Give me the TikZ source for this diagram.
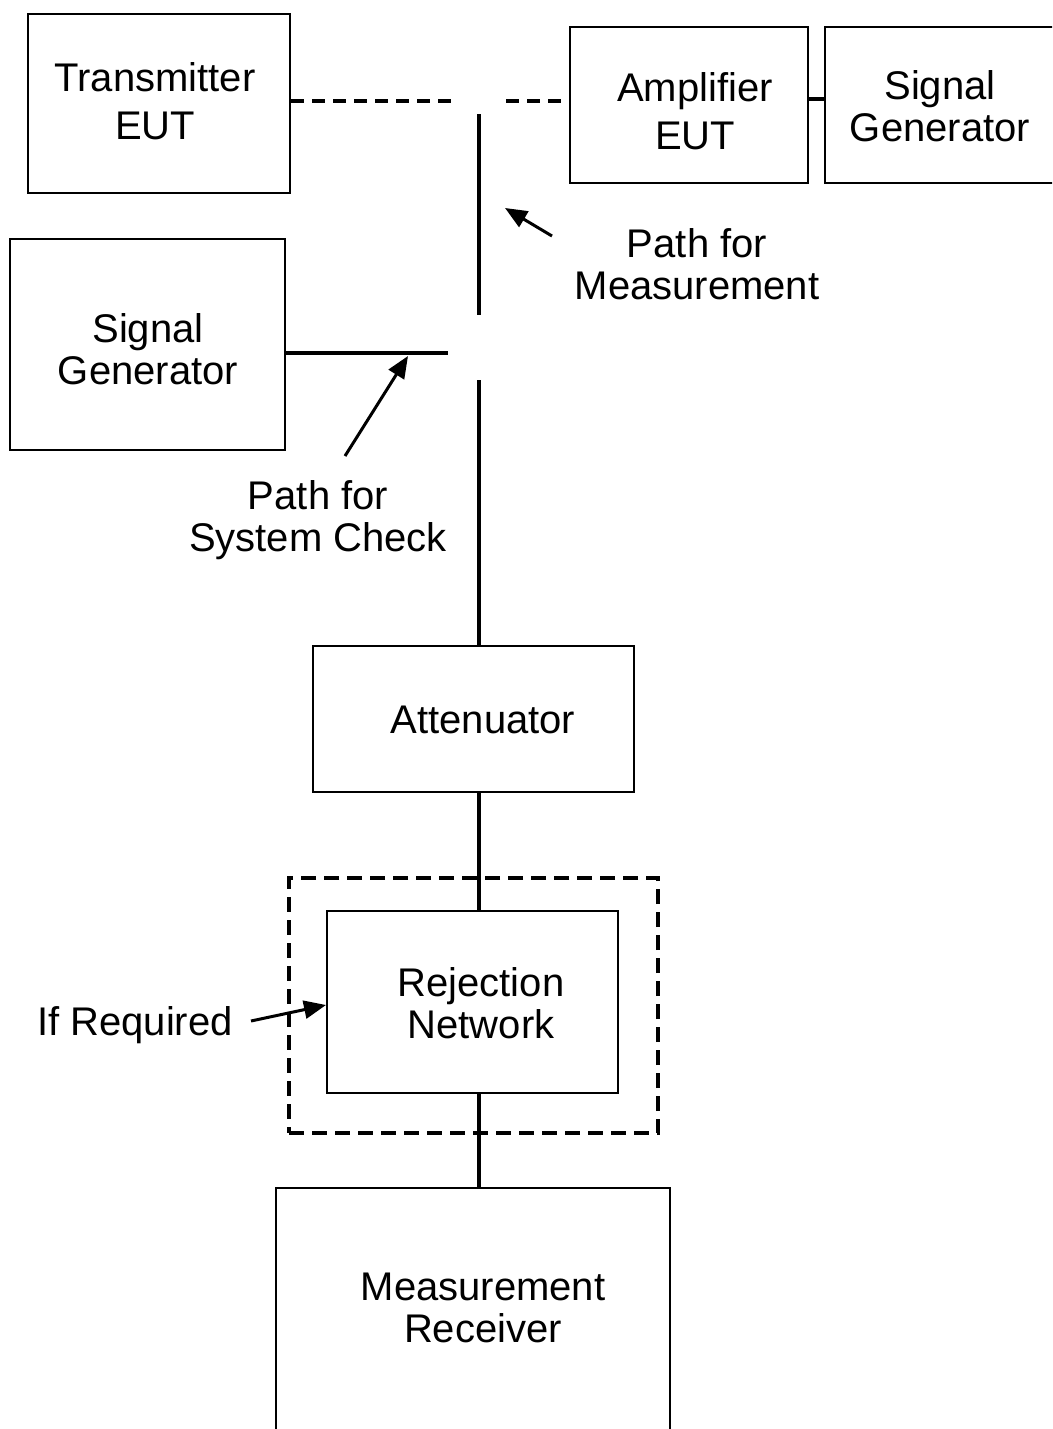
\documentclass[tikz,border=0pt]{standalone}
\usepackage{fontspec}
\setmainfont{Liberation Sans}
\usetikzlibrary{arrows.meta}
\begin{document}
\begin{tikzpicture}[x=1pt,y=-1pt,
  box/.style={draw,line width=2.8pt,inner sep=0pt},
  txt/.style={align=center,inner sep=0pt,font=\fontsize{40}{42}\selectfont},
  wire/.style={line width=3.8pt},
  dwire/.style={line width=3.8pt,dash pattern=on 13pt off 8pt},
  dbox/.style={draw,line width=3.5pt,dash pattern=on 15pt off 8pt,inner sep=0pt},
  arr/.style={line width=3pt,-{Triangle[length=22pt,width=18pt]}}]
\clip (0,0) rectangle (1052,1429);
% boxes
\node[box,minimum width=262pt,minimum height=179pt] (tx) at (159,103.5) {};
\node[txt] (txt-t) at (155,101) {Transmitter\\[6pt]EUT};
\node[box,minimum width=238pt,minimum height=156pt] (amp) at (689,105) {};
\node[txt] (amp-t) at (695,111) {Amplifier\\[6pt]EUT};
\node[box,minimum width=230pt,minimum height=156pt] (sg1) at (940,105) {};
\node[txt] (sg1-t) at (940,106) {Signal\\Generator};
\node[box,minimum width=275pt,minimum height=211pt] (sg2) at (147.5,344.5) {};
\node[txt] (sg2-t) at (148,349.5) {Signal\\Generator};
\node[box,minimum width=321pt,minimum height=146pt] (att) at (473.5,719) {};
\node[txt] (att-t) at (483,720) {Attenuator};
\node[dbox,minimum width=369pt,minimum height=255pt] (ifr) at (473.5,1005.5) {};
\node[box,minimum width=291pt,minimum height=182pt] (rej) at (472.5,1002) {};
\node[txt] (rej-t) at (481,1003.5) {Rejection\\Network};
\node[box,minimum width=394pt,minimum height=300pt] (rx) at (473,1338) {};
\node[txt] (rx-t) at (483,1308) {Measurement\\Receiver};
% labels
\node[txt] (lbl-m) at (697,264) {Path for\\Measurement};
\node[txt] (lbl-s) at (318,520) {Path for\\System Check};
\node[txt] (lbl-i) at (135,1025) {If Required};
% coordinates
\coordinate (d1) at (452,101);
\coordinate (d2) at (506,101);
\coordinate (c1) at (816,99);
\coordinate (s1) at (479,114);
\coordinate (s2) at (479,315);
\coordinate (s3) at (479,380);
\coordinate (h1) at (448,353);
\coordinate (a1s) at (552,236);
\coordinate (a1e) at (505,208);
\coordinate (a2s) at (345,456);
\coordinate (a2e) at (408,356);
\coordinate (a3s) at (251,1021);
\coordinate (a3e) at (326,1005);
% connectors
\draw[dwire] (tx.east |- d1) -- (d1);
\draw[dwire] (d2) -- (amp.west |- d2);
\draw[wire] (amp.east |- c1) -- (sg1.west |- c1);
\draw[wire] (s1) -- (s2);
\draw[wire] (s3) -- (s3 |- att.north);
\draw[wire] (sg2.east |- h1) -- (h1);
\draw[wire] (s3 |- att.south) -- (s3 |- rej.north);
\draw[wire] (s3 |- rej.south) -- (s3 |- rx.north);
% arrows
\draw[arr] (a1s) -- (a1e);
\draw[arr] (a2s) -- (a2e);
\draw[arr] (a3s) -- (a3e);
\end{tikzpicture}
\end{document}
